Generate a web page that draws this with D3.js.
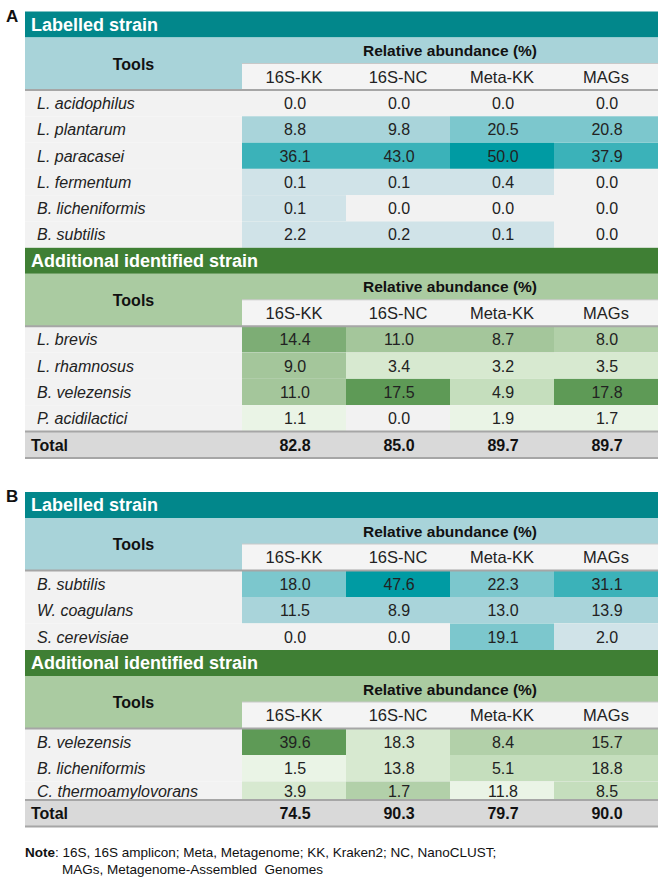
<!DOCTYPE html>
<html><head><meta charset="utf-8">
<script src="https://cdn.jsdelivr.net/npm/d3@7"></script>
<style>body{margin:0;background:#fff} svg{display:block;font-family:Arial,"Liberation Sans",sans-serif}</style>
</head><body><svg id="c" width="660" height="879"></svg>
<script>
// ---------- DATA ----------
const tools = ["16S-KK", "16S-NC", "Meta-KK", "MAGs"];

const aLabelledStrains = ["L. acidophilus", "L. plantarum", "L. paracasei", "L. fermentum", "B. licheniformis", "B. subtilis"];
const aLabelledValues = [
  [0.0, 0.0, 0.0, 0.0],
  [8.8, 9.8, 20.5, 20.8],
  [36.1, 43.0, 50.0, 37.9],
  [0.1, 0.1, 0.4, 0.0],
  [0.1, 0.0, 0.0, 0.0],
  [2.2, 0.2, 0.1, 0.0]
];
const aAdditionalStrains = ["L. brevis", "L. rhamnosus", "B. velezensis", "P. acidilactici"];
const aAdditionalValues = [
  [14.4, 11.0, 8.7, 8.0],
  [9.0, 3.4, 3.2, 3.5],
  [11.0, 17.5, 4.9, 17.8],
  [1.1, 0.0, 1.9, 1.7]
];
const aAdditionalShades = [
  [6, 5, 5, 4],
  [5, 2, 2, 2],
  [5, 7, 3, 7],
  [1, 0, 1, 1]
];
const aTotals = [82.8, 85.0, 89.7, 89.7];

const bLabelledStrains = ["B. subtilis", "W. coagulans", "S. cerevisiae"];
const bLabelledValues = [
  [18.0, 47.6, 22.3, 31.1],
  [11.5, 8.9, 13.0, 13.9],
  [0.0, 0.0, 19.1, 2.0]
];
const bAdditionalStrains = ["B. velezensis", "B. licheniformis", "C. thermoamylovorans"];
const bAdditionalValues = [
  [39.6, 18.3, 8.4, 15.7],
  [1.5, 13.8, 5.1, 18.8],
  [3.9, 1.7, 11.8, 8.5]
];
const bAdditionalShades = [
  [7, 2, 4, 4],
  [1, 2, 3, 3],
  [2, 4, 1, 3]
];
const bTotals = [74.5, 90.3, 79.7, 90.0];

// ---------- STYLE / LAYOUT ----------
const svg = d3.select("#c");
const X0 = 25, X1 = 658, LABEL_END = 242;
const x = d3.scaleBand().domain(tools).range([LABEL_END, X1]);
const fmt = d3.format(".1f");
const BG = "#f2f2f2";
const LINE = "#a6a6a6";

const tealColor = d3.scaleThreshold()
  .domain([0.05, 5, 15, 25, 45])
  .range([BG, "#d0e3e8", "#a9d4da", "#7cc7cd", "#3bb2b9", "#009ba3"]);
const greenColor = d3.scaleOrdinal()
  .domain(d3.range(8))
  .range([BG, "#eaf4e6", "#d7e9d0", "#c5debd", "#b2d0a9", "#a4c69b", "#7dad75", "#5e9a56"]);

const teal = { banner: "#02878b", head: "#a8d3d9" };
const green = { banner: "#3f7f34", head: "#aacba1" };

function header(y, theme, title) {
  const bannerH = 26, h1 = 26, h2 = 26.5;
  svg.append("rect").attr("x", X0).attr("y", y).attr("width", X1 - X0).attr("height", bannerH).attr("fill", theme.banner);
  svg.append("text").attr("x", X0 + 6).attr("y", y + bannerH / 2).attr("dy", "0.36em")
    .attr("fill", "#fff").attr("font-weight", "bold").attr("font-size", 18).text(title);
  y += bannerH;
  svg.append("rect").attr("x", X0).attr("y", y).attr("width", X1 - X0).attr("height", h1 + h2).attr("fill", theme.head);
  svg.append("text").attr("x", (X0 + LABEL_END) / 2).attr("y", y + (h1 + h2) / 2).attr("dy", "0.36em")
    .attr("text-anchor", "middle").attr("font-weight", "bold").attr("font-size", 16).attr("fill", "#111").text("Tools");
  svg.append("text").attr("x", (LABEL_END + X1) / 2).attr("y", y + h1 / 2).attr("dy", "0.36em")
    .attr("text-anchor", "middle").attr("font-weight", "bold").attr("font-size", 15.5).attr("fill", "#111").text("Relative abundance (%)");
  svg.append("rect").attr("x", LABEL_END).attr("y", y + h1).attr("width", X1 - LABEL_END).attr("height", h2).attr("fill", "#f4f4f4");
  svg.append("line").attr("x1", LABEL_END).attr("x2", X1).attr("y1", y + h1).attr("y2", y + h1).attr("stroke", "#c8c8c8").attr("stroke-width", 1);
  svg.append("g").selectAll("text").data(tools).join("text")
    .attr("x", d => x(d) + x.bandwidth() / 2).attr("y", y + h1 + h2 / 2).attr("dy", "0.36em")
    .attr("text-anchor", "middle").attr("font-size", 16.5).attr("fill", "#222").text(d => d);
  y += h1 + h2;
  return y;
}

function rows(y, strains, values, colorFn, heights) {
  const y0 = y;
  strains.forEach((s, i) => {
    const h = heights[i];
    const g = svg.append("g");
    g.append("rect").attr("x", X0).attr("y", y).attr("width", X1 - X0).attr("height", h).attr("fill", BG);
    g.selectAll("rect.cell").data(values[i]).join("rect").attr("class", "cell")
      .attr("x", (d, j) => x(tools[j])).attr("y", y).attr("width", x.bandwidth()).attr("height", h)
      .attr("fill", (d, j) => colorFn(d, i, j));
    g.append("text").attr("x", 37).attr("y", y + h / 2).attr("dy", "0.36em")
      .attr("font-style", "italic").attr("font-size", 16).attr("fill", "#222").text(s);
    g.selectAll("text.v").data(values[i]).join("text").attr("class", "v")
      .attr("x", (d, j) => x(tools[j]) + x.bandwidth() / 2 + 1).attr("y", y + h / 2).attr("dy", "0.36em")
      .attr("text-anchor", "middle").attr("font-size", 16).attr("fill", "#222").text(d => fmt(d));
    y += h;
  });
  svg.append("line").attr("x1", X0).attr("x2", X1).attr("y1", y0).attr("y2", y0).attr("stroke", LINE).attr("stroke-width", 2);
  return y;
}

function total(y, totals) {
  const h = 26.5;
  svg.append("rect").attr("x", X0).attr("y", y).attr("width", X1 - X0).attr("height", h).attr("fill", "#d9d9d9");
  svg.append("text").attr("x", 31).attr("y", y + h / 2).attr("dy", "0.36em")
    .attr("font-weight", "bold").attr("font-size", 16).attr("fill", "#111").text("Total");
  svg.append("g").selectAll("text").data(totals).join("text")
    .attr("x", (d, j) => x(tools[j]) + x.bandwidth() / 2 + 1).attr("y", y + h / 2).attr("dy", "0.36em")
    .attr("text-anchor", "middle").attr("font-weight", "bold").attr("font-size", 16).attr("fill", "#111").text(d => fmt(d));
  svg.append("line").attr("x1", X0).attr("x2", X1).attr("y1", y).attr("y2", y).attr("stroke", LINE).attr("stroke-width", 2);
  svg.append("line").attr("x1", X0).attr("x2", X1).attr("y1", y + h).attr("y2", y + h).attr("stroke", LINE).attr("stroke-width", 2);
  return y + h;
}

function panel(label, y, labelled, labelledVals, additional, additionalVals, shades, totals, labHeights, addHeights) {
  svg.append("text").attr("x", 6).attr("y", y + 10).attr("font-weight", "bold").attr("font-size", 17).attr("fill", "#111").text(label);
  y = header(y, teal, "Labelled strain");
  y = rows(y, labelled, labelledVals, d => tealColor(d), labHeights);
  y = header(y, green, "Additional identified strain");
  y = rows(y, additional, additionalVals, (d, i, j) => greenColor(shades[i][j]), addHeights);
  y = total(y, totals);
  return y;
}

panel("A", 11.5, aLabelledStrains, aLabelledValues, aAdditionalStrains, aAdditionalValues, aAdditionalShades, aTotals,
  [26.3, 26.3, 26.3, 26.3, 26.3, 26.3], [26.3, 26.3, 26.3, 26.3]);
panel("B", 492, bLabelledStrains, bLabelledValues, bAdditionalStrains, bAdditionalValues, bAdditionalShades, bTotals,
  [26.5, 26.5, 26.5], [26.5, 26.5, 18.5]);

// note
const note = svg.append("text").attr("x", X0).attr("y", 857).attr("font-size", 13.5).attr("fill", "#111");
note.append("tspan").attr("font-weight", "bold").text("Note");
note.append("tspan").text(": 16S, 16S amplicon; Meta, Metagenome; KK, Kraken2; NC, NanoCLUST;");
svg.append("text").attr("x", 62).attr("y", 874).attr("font-size", 13.5).attr("fill", "#111")
  .text("MAGs, Metagenome-Assembled  Genomes").attr("xml:space", "preserve").style("white-space", "pre");
</script></body></html>
